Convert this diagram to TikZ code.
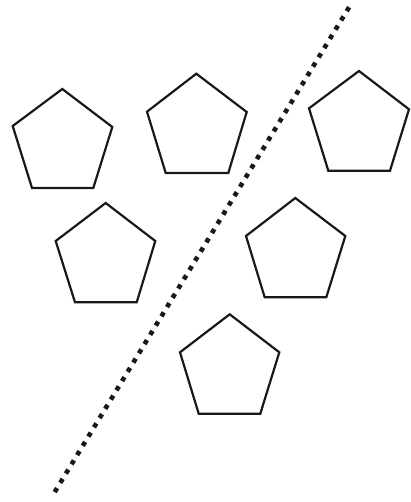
\documentclass[tikz,border=0pt]{standalone}
\begin{document}
\begin{tikzpicture}[x=1pt,y=-1pt,
  pent/.style={draw=black!90,line width=2.2pt,line join=miter},
  divider/.style={draw=black!90,line width=4.6pt,dash pattern=on 4.6pt off 6.22pt}]
\useasboundingbox (0,0) rectangle (411,502);
% pentagons
\draw[pent] (62.3,89) -- (112.3,127) -- (93.3,188) -- (32,188) -- (12.7,126) -- cycle;
\draw[pent] (196.3,73.7) -- (246.7,112) -- (228.3,173) -- (165.7,173) -- (147,111.7) -- cycle;
\draw[pent] (359,71) -- (409,109.3) -- (390,170.7) -- (328.3,170.7) -- (309,108.3) -- cycle;
\draw[pent] (105.7,203) -- (155.3,241) -- (136.7,302.3) -- (75,302.3) -- (55.7,241) -- cycle;
\draw[pent] (295.3,198) -- (345.3,236) -- (326.3,297.3) -- (264.7,297.3) -- (246,236) -- cycle;
\draw[pent] (229.7,314.3) -- (279.3,352.3) -- (260.3,413.7) -- (198.7,413.7) -- (180,352.3) -- cycle;
% dotted divider
\coordinate (top) at (349.1,7.2);
\coordinate (bot) at (52.1,496.3);
\draw[divider] (top) -- (bot);
\end{tikzpicture}
\end{document}
